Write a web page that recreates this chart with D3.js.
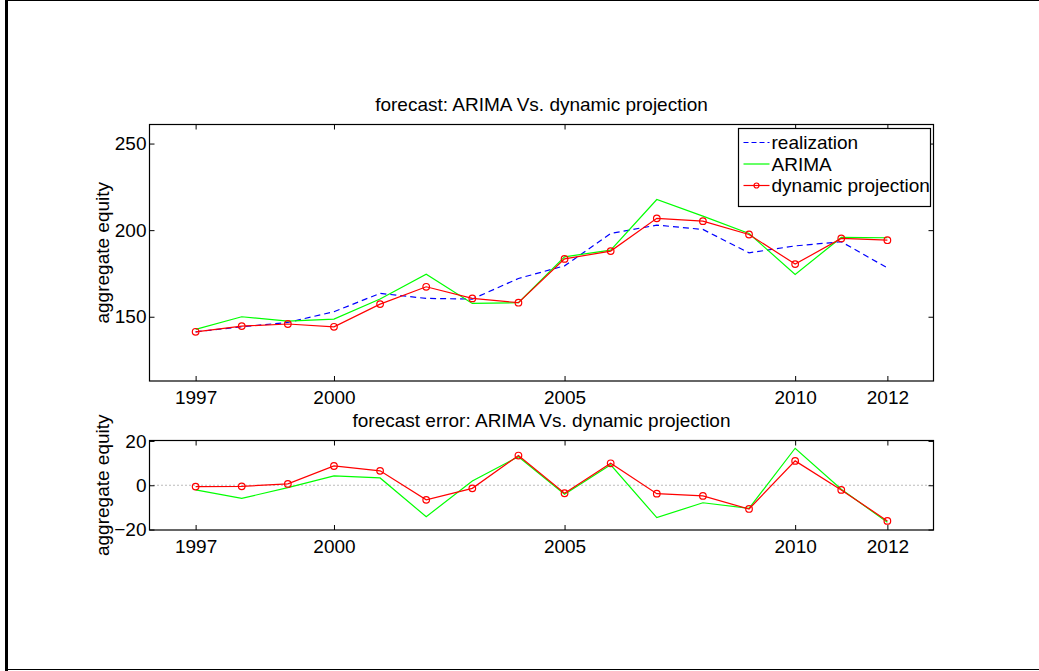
<!DOCTYPE html>
<html>
<head>
<meta charset="utf-8">
<script src="https://cdnjs.cloudflare.com/ajax/libs/d3/7.8.5/d3.min.js"></script>
<style>
  body { margin: 0; background: #fff; }
  svg { display: block; }
  text { font-family: "Liberation Sans", Helvetica, Arial, sans-serif; fill: #000; }
  .tick line { stroke: #000; }
  .line { fill: none; stroke-width: 1.2; }
</style>
</head>
<body>
<div id="chart"></div>
<script>
// data
var years = [1997, 1998, 1999, 2000, 2001, 2002, 2003, 2004, 2005, 2006, 2007, 2008, 2009, 2010, 2011, 2012];
var realization = [141.3, 144.2, 146.7, 152.9, 163.5, 160.6, 160.2, 172.1, 179.4, 198.1, 202.9, 200.4, 186.9, 190.9, 193.3, 178.2];
var arima       = [142.7, 150.0, 147.5, 148.6, 160.2, 174.6, 157.7, 158.1, 184.6, 188.5, 217.7, 208.1, 198.1, 174.4, 195.8, 195.6];
var dynamic     = [141.3, 144.6, 145.8, 144.2, 157.3, 167.3, 160.6, 158.1, 183.4, 187.9, 206.8, 205.2, 197.5, 180.4, 195.2, 194.2];
var arimaErr    = [-2.1, -5.9, -1.1, 4.2, 3.3, -14.2, 1.9, 12.9, -4.1, 9.2, -14.6, -7.9, -10.4, 16.7, -1.8, -16.7];
var dynamicErr  = [-0.6, -0.5, 0.6, 8.7, 6.5, -6.6, -1.4, 13.4, -3.6, 9.9, -3.8, -4.8, -10.7, 11.0, -2.1, -16.1];

var xTicks = [1997, 2000, 2005, 2010, 2012];
var yTicksTop = [150, 200, 250];
var yTicksBottom = [-20, 0, 20];

var legendLabels = ["realization", "ARIMA", "dynamic projection"];

var width = 1039, height = 671;
var fs = 19;

var svg = d3.select("#chart").append("svg")
  .attr("width", width)
  .attr("height", height);

// figure frame
svg.append("line").attr("x1", 6.5).attr("x2", 6.5).attr("y1", 0).attr("y2", 671)
  .attr("stroke", "#000").attr("stroke-width", 3);
svg.append("line").attr("x1", 5).attr("x2", width).attr("y1", 0.5).attr("y2", 0.5)
  .attr("stroke", "#000").attr("stroke-width", 1);
svg.append("line").attr("x1", 5).attr("x2", width).attr("y1", 669.5).attr("y2", 669.5)
  .attr("stroke", "#000").attr("stroke-width", 1);

var left = 149.5, right = 933.5;

var xScale = d3.scaleLinear().domain([1996, 2013]).range([left, right]);

function makePanel(top, bottom, yDomain, yTicks, title, series, zeroLine) {
  var yScale = d3.scaleLinear().domain(yDomain).range([bottom, top]);
  var g = svg.append("g");

  if (zeroLine) {
    g.append("line")
      .attr("x1", left).attr("x2", right)
      .attr("y1", yScale(0)).attr("y2", yScale(0))
      .attr("stroke", "#777").attr("stroke-width", 1)
      .attr("stroke-dasharray", "1,3");
  }

  // axes, ticks pointing inward on all four sides
  var xb = g.append("g").attr("transform", "translate(0," + bottom + ")")
    .call(d3.axisBottom(xScale).tickValues(xTicks).tickFormat(d3.format("d")).tickSize(-5).tickPadding(10));
  var xt = g.append("g").attr("transform", "translate(0," + top + ")")
    .call(d3.axisTop(xScale).tickValues(xTicks).tickFormat("").tickSize(-5));
  var yl = g.append("g").attr("transform", "translate(" + left + ",0)")
    .call(d3.axisLeft(yScale).tickValues(yTicks).tickFormat(function(d) { return d < 0 ? "\u2212" + Math.abs(d) : d; }).tickSize(-5).tickPadding(3));
  var yr = g.append("g").attr("transform", "translate(" + right + ",0)")
    .call(d3.axisRight(yScale).tickValues(yTicks).tickFormat("").tickSize(-5));
  [xb, xt, yl, yr].forEach(function(a) {
    a.select(".domain").remove();
    a.selectAll("text").style("font-size", fs + "px").attr("fill", "#000");
    a.attr("font-family", null);
  });

  g.append("rect")
    .attr("x", left).attr("y", top)
    .attr("width", right - left).attr("height", bottom - top)
    .attr("fill", "none").attr("stroke", "#000").attr("stroke-width", 1.2);

  g.append("text")
    .attr("x", (left + right) / 2).attr("y", top - 14)
    .attr("text-anchor", "middle")
    .style("font-size", fs + "px")
    .text(title);

  g.append("text")
    .attr("transform", "translate(" + 109 + "," + (top + bottom) / 2 + ") rotate(-90)")
    .attr("text-anchor", "middle")
    .style("font-size", fs + "px")
    .text("aggregate equity");

  series.forEach(function(s) {
    var pts = years.map(function(y, i) { return { year: y, v: s.values[i] }; });
    var line = d3.line()
      .x(function(d) { return xScale(d.year); })
      .y(function(d) { return yScale(d.v); });
    g.append("path")
      .datum(pts)
      .attr("class", "line")
      .attr("stroke", s.color)
      .attr("stroke-dasharray", s.dash || null)
      .attr("d", line);
    if (s.marker) {
      g.selectAll(null)
        .data(pts)
        .enter().append("circle")
        .attr("cx", function(d) { return xScale(d.year); })
        .attr("cy", function(d) { return yScale(d.v); })
        .attr("r", 3.3)
        .attr("fill", "none")
        .attr("stroke", s.color)
        .attr("stroke-width", 1.2);
    }
  });
  return g;
}

var topSeries = [
  { values: realization, color: "#0000ff", dash: "6,4" },
  { values: arima, color: "#00ff00" },
  { values: dynamic, color: "#ff0000", marker: true }
];
var bottomSeries = [
  { values: arimaErr, color: "#00ff00" },
  { values: dynamicErr, color: "#ff0000", marker: true }
];

var topPanel = makePanel(124.5, 381, [112.9, 261], yTicksTop, "forecast: ARIMA Vs. dynamic projection", topSeries, false);
makePanel(440.5, 530, [-20.2, 20.2], yTicksBottom, "forecast error: ARIMA Vs. dynamic projection", bottomSeries, true);

// legend
var legend = topPanel.append("g").attr("transform", "translate(738.5,128.5)");
legend.append("rect")
  .attr("width", 192).attr("height", 78)
  .attr("fill", "#fff").attr("stroke", "#000").attr("stroke-width", 1.2);
var rows = legend.selectAll(".row")
  .data(topSeries)
  .enter().append("g")
  .attr("class", "row")
  .attr("transform", function(d, i) { return "translate(0," + (14 + i * 21.5) + ")"; });
rows.append("line")
  .attr("x1", 5).attr("x2", 31).attr("y1", 0).attr("y2", 0)
  .attr("stroke", function(d) { return d.color; })
  .attr("stroke-width", 1.2)
  .attr("stroke-dasharray", function(d) { return d.dash ? "5,3" : null; });
rows.filter(function(d) { return d.marker; }).append("circle")
  .attr("cx", 18).attr("cy", 0).attr("r", 2.5)
  .attr("fill", "none").attr("stroke", function(d) { return d.color; }).attr("stroke-width", 1.2);
rows.append("text")
  .attr("x", 33).attr("y", 0).attr("dy", "0.35em")
  .style("font-size", fs + "px")
  .text(function(d, i) { return legendLabels[i]; });
</script>
</body>
</html>
